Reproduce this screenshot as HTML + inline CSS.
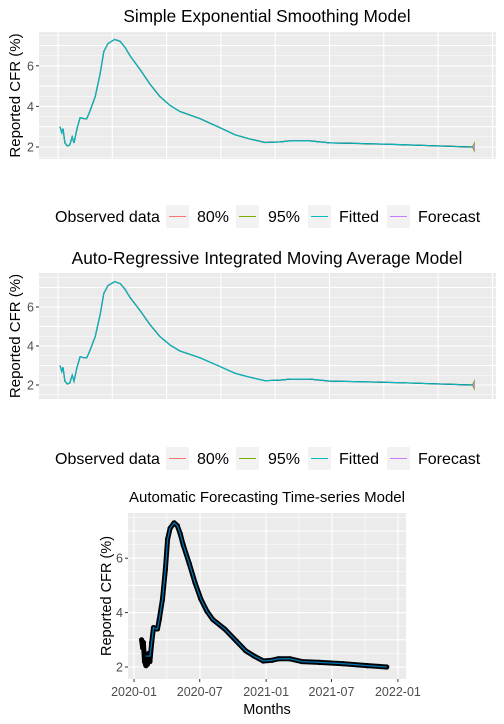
<!DOCTYPE html>
<html><head><meta charset="utf-8"><style>
body{margin:0;background:#fff;}
svg{display:block;font-family:"Liberation Sans",Arial,sans-serif;}
</style></head><body>
<svg id="c" width="504" height="724" xmlns="http://www.w3.org/2000/svg"></svg>
<script>
const days=[0,3,5,8,12,16,20,23,28,33,39,44,49,58,66,72,79,90,99,107,115,132,148,164,181,197,230,263,288,312,337,362,378,411,444,493,559,625,679];
const cfr=[3.0,2.7,2.9,2.2,2.05,2.1,2.5,2.2,2.9,3.45,3.4,3.4,3.75,4.5,5.6,6.7,7.1,7.3,7.2,6.9,6.5,5.8,5.1,4.5,4.05,3.75,3.4,2.95,2.6,2.4,2.22,2.25,2.3,2.3,2.2,2.17,2.12,2.05,2.0];
const yTicks=[2,4,6];
const xTickLabels=["2020-01","2020-07","2021-01","2021-07","2022-01"];
const xTickDays=[-21,161,345,526,710];
const legendLabels=["80%","95%","Fitted","Forecast"];
const legendColors=["#F8766D","#7CAE00","#00BFC4","#C77CFF"];

const svg=document.getElementById('c');
const NS="http://www.w3.org/2000/svg";
function mk(tag,attrs,parent){const e=document.createElementNS(NS,tag);for(const k in attrs)e.setAttribute(k,attrs[k]);(parent||svg).appendChild(e);return e;}
function txt(s,attrs,parent){const e=mk('text',attrs,parent);e.textContent=s;return e;}

function panel(o){
  const g=mk('g',{});
  
  
  const X=d=>o.x0+d*o.kx, Y=v=>o.y2-(v-2)*o.ky;
  const bg=mk('rect',{x:o.L,y:o.T,width:o.R-o.L,height:o.B-o.T,fill:'#EBEBEB'},g);
  
  
  for(let v=1;v<=8;v+=0.5){const y=Y(v);if(y<o.T||y>o.B)continue;
    mk('line',{x1:o.L,x2:o.R,y1:y,y2:y,stroke:'#fff','stroke-width':(v%1===0?1.1:0.5)},g);}
  for(const gx of o.vgrid){mk('line',{x1:gx.x,x2:gx.x,y1:o.T,y2:o.B,stroke:'#fff','stroke-width':gx.w},g);}
  for(const t of yTicks){const y=Y(t);
    mk('line',{x1:o.L-3,x2:o.L,y1:y,y2:y,stroke:'#333'},g);
    const tl=txt(String(t),{x:o.L-5,y:y+4.5,'text-anchor':'end','font-size':o.tf,fill:'#4D4D4D'},g);
    
    
  }
  const pts=days.map((d,i)=>X(d).toFixed(1)+','+Y(cfr[i]).toFixed(1)).join(' ');
  if(o.auto){
    const rib=days.slice(6).map((d,i)=>X(d)+','+Y(cfr[i+6]+0.1)).concat(days.slice(6).reverse().map((d,i)=>X(d)+','+Y(cfr[cfr.length-1-i]-0.1))).join(' ');
    const r=mk('polygon',{points:rib,fill:'#A6CEE3','fill-opacity':0.7},g);
    
    
    const ob=mk('polyline',{points:pts,fill:'none',stroke:'#000','stroke-width':5,'stroke-linejoin':'round','stroke-linecap':'round'},g);
    
    
    days.forEach((d,i)=>{const c=mk('circle',{cx:X(d),cy:Y(cfr[i]),r:2.6,fill:'#000'},g);
      
      });
    const fp=days.slice(4).map((d,i)=>X(d).toFixed(1)+','+Y(i<4?2.4:cfr[i+4]).toFixed(1)).join(' ');
    const fl=mk('polyline',{points:fp,fill:'none',stroke:'#0072B2','stroke-width':1.3},g);
    
    
  } else {
    const ob=mk('polyline',{points:pts,fill:'none',stroke:'#000','stroke-width':1.2},g);
    
    
    const fl=mk('polyline',{points:pts,fill:'none',stroke:'#00BFC4','stroke-width':1.1},g);
    
    
    const ex=X(days[days.length-1]),ey=Y(cfr[cfr.length-1]);
    const f95=mk('polygon',{points:`${ex-1},${ey} ${ex+2},${ey-6} ${ex+2},${ey+6}`,fill:'#7CAE00'},g);
    
    
    const f80=mk('polygon',{points:`${ex},${ey} ${ex+2},${ey-4} ${ex+2},${ey+4}`,fill:'#C77CFF'},g);
    
    
  }
  const tt=txt(o.title,{x:o.tx,y:o.ty,'text-anchor':'middle','font-size':o.tsz,fill:'#000'},g);
  
  
  const cy=(o.T+o.B)/2;
  const yl=txt('Reported CFR (%)',{x:o.ylx,y:cy,'text-anchor':'middle','font-size':o.ysz,fill:'#000',transform:`rotate(-90 ${o.ylx} ${cy})`},g);
  
  
  return {g,X,Y};
}

function vg(start,step,n,w){const a=[];for(let k=0;k<n;k++)a.push({x:start+k*step,w:w});return a;}

function legend(y,name){
  const g=mk('g',{});
  
  
  const t=txt('Observed data',{x:55,y:y+6,'font-size':16,fill:'#000'},g);
  
  
  const kx=[166,236,308,387],lx=[197,268,339,418];
  legendLabels.forEach((l,i)=>{
    const e=mk('g',{},g);
    
    
    mk('rect',{x:kx[i],y:y-11,width:23,height:23,fill:'#F2F2F2'},e);
    mk('line',{x1:kx[i]+3,x2:kx[i]+20,y1:y+0.5,y2:y+0.5,stroke:legendColors[i],'stroke-width':1},e);
    txt(l,{x:lx[i],y:y+6,'font-size':16,fill:'#000'},e);
  });
}

panel({name:'ses-panel',L:39,R:496,T:32,B:159,x0:60,kx:0.608,y2:147,ky:20.3,tf:12.5,
  vgrid:vg(58,54.3,9,1.1),title:'Simple Exponential Smoothing Model',tx:267,ty:22,tsz:17.3,ylx:20,ysz:15});
legend(216,'ses-legend');
panel({name:'arima-panel',L:39,R:496,T:273,B:399,x0:60,kx:0.608,y2:385,ky:19.5,tf:12.5,
  vgrid:vg(58,54.3,9,1.1),title:'Auto-Regressive Integrated Moving Average Model',tx:267,ty:264,tsz:17.3,ylx:20,ysz:15});
legend(458,'arima-legend');
const p3=panel({name:'auto-panel',L:128,R:406,T:513,B:679,x0:141.6,kx:0.361,y2:667,ky:27.2,tf:12.5,auto:true,
  vgrid:vg(134,33,9,0).map((v,i)=>({x:v.x,w:i%2===0?1.1:0.5})),title:'Automatic Forecasting Time-series Model',tx:267,ty:502,tsz:15,ylx:111,ysz:14.5});
xTickDays.forEach((d,i)=>{const x=p3.X(d);
  mk('line',{x1:x,x2:x,y1:679,y2:682,stroke:'#333'},p3.g);
  const t=txt(xTickLabels[i],{x:x,y:696,'text-anchor':'middle','font-size':12.5,fill:'#4D4D4D'},p3.g);
  
  
});
const xt=txt('Months',{x:267,y:714,'text-anchor':'middle','font-size':14.5,fill:'#000'},p3.g);


</script>
</body></html>
